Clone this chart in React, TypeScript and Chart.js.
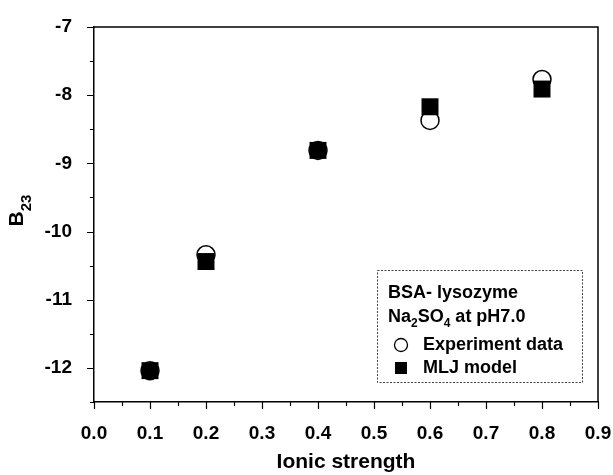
import React, { useEffect, useRef } from "react";
import { Chart, registerables } from "chart.js";

Chart.register(...registerables);

const ionicStrength = [0.1, 0.2, 0.4, 0.6, 0.8];
const experimentData = [-12.04, -10.34, -8.81, -8.37, -7.77];
const mljModel = [-12.04, -10.44, -8.81, -8.17, -7.91];
const xRange = [0, 0.9];
const yRange = [-12.5, -7];
const xMinorStep = 0.05;
const yMinorStep = 0.5;
const legendTitle1 = "BSA- lysozyme";
const legendTitle2 = [
  { t: "Na", sub: false },
  { t: "2", sub: true },
  { t: "SO", sub: false },
  { t: "4", sub: true },
  { t: " at pH7.0", sub: false },
];
const seriesNames = ["Experiment data", "MLJ model"];
const xTitle = "Ionic strength";

const FONT = '"Liberation Sans", Arial, Helvetica, sans-serif';

function isMultiple(v: number, step: number) {
  const r = v / step;
  return Math.abs(r - Math.round(r)) < 1e-6;
}

const decorPlugin = {
  id: "decor",
  afterDraw(chart: any) {
    const ctx = chart.ctx;
    const a = chart.chartArea;
    const xs = chart.scales.x;
    const ys = chart.scales.y;
    ctx.save();
    // top & right frame
    ctx.strokeStyle = "#000";
    ctx.lineWidth = 1.5;
    ctx.beginPath();
    ctx.moveTo(a.left, a.top);
    ctx.lineTo(a.right, a.top);
    ctx.lineTo(a.right, a.bottom);
    ctx.stroke();

    // ticks (outward, major & minor)
    ctx.lineWidth = 1.2;
    ctx.beginPath();
    const ny = Math.round((yRange[1] - yRange[0]) / yMinorStep);
    for (let i = 0; i <= ny; i++) {
      const v = yRange[0] + i * yMinorStep;
      const py = Math.round(ys.getPixelForValue(v)) + 0.5;
      const len = isMultiple(v, 1) ? 7 : 4;
      ctx.moveTo(a.left - len, py);
      ctx.lineTo(a.left, py);
    }
    const nx = Math.round((xRange[1] - xRange[0]) / xMinorStep);
    for (let i = 0; i <= nx; i++) {
      const v = xRange[0] + i * xMinorStep;
      const px = Math.round(xs.getPixelForValue(v)) + 0.5;
      const len = isMultiple(v, 0.1) ? 7 : 4;
      ctx.moveTo(px, a.bottom);
      ctx.lineTo(px, a.bottom + len);
    }
    ctx.stroke();

    // x title
    ctx.fillStyle = "#000";
    ctx.font = `bold 21px ${FONT}`;
    ctx.textAlign = "center";
    ctx.textBaseline = "middle";
    ctx.fillText(xTitle, (a.left + a.right) / 2, 462);

    // y title B23 rotated
    ctx.save();
    ctx.translate(23, (a.top + a.bottom) / 2 - 4);
    ctx.rotate(-Math.PI / 2);
    ctx.textBaseline = "alphabetic";
    ctx.textAlign = "left";
    ctx.font = `bold 21px ${FONT}`;
    const wB = ctx.measureText("B").width;
    ctx.font = `bold 15px ${FONT}`;
    const wS = ctx.measureText("23").width;
    const start = -(wB + wS) / 2;
    ctx.font = `bold 21px ${FONT}`;
    ctx.fillText("B", start, 0);
    ctx.font = `bold 15px ${FONT}`;
    ctx.fillText("23", start + wB, 8);
    ctx.restore();

    // legend box
    const bx = 377, by = 270, bw = 205, bh = 112;
    ctx.fillStyle = "#fff";
    ctx.fillRect(bx, by, bw, bh);
    ctx.setLineDash([2, 1.5]);
    ctx.strokeStyle = "#444";
    ctx.lineWidth = 1;
    ctx.strokeRect(bx + 0.5, by + 0.5, bw, bh);
    ctx.setLineDash([]);

    ctx.fillStyle = "#000";
    ctx.textAlign = "left";
    ctx.textBaseline = "middle";
    ctx.font = `bold 18px ${FONT}`;
    ctx.fillText(legendTitle1, 388, 293);
    let x = 388;
    for (const part of legendTitle2) {
      if (part.sub) {
        ctx.font = `bold 12px ${FONT}`;
        ctx.fillText(part.t, x, 324);
      } else {
        ctx.font = `bold 18px ${FONT}`;
        ctx.fillText(part.t, x, 317);
      }
      x += ctx.measureText(part.t).width;
    }
    // items
    ctx.font = `bold 18px ${FONT}`;
    ctx.fillText(seriesNames[0], 423, 345);
    ctx.fillText(seriesNames[1], 423, 368);
    ctx.beginPath();
    ctx.arc(401, 345, 6.5, 0, Math.PI * 2);
    ctx.fillStyle = "#fff";
    ctx.fill();
    ctx.strokeStyle = "#000";
    ctx.lineWidth = 1.3;
    ctx.stroke();
    ctx.fillStyle = "#000";
    ctx.fillRect(395, 362, 12, 12);
    ctx.restore();
  },
};

export default function App() {
  const ref = useRef<HTMLCanvasElement | null>(null);
  useEffect(() => {
    if (!ref.current) return;
    const chart = new Chart(ref.current, {
      type: "scatter",
      data: {
        datasets: [
          {
            label: seriesNames[1],
            data: ionicStrength.map((x, i) => ({ x, y: mljModel[i] })),
            pointStyle: "rect",
            pointRadius: 12,
            backgroundColor: "#000",
            borderColor: "#000",
            borderWidth: 0,
            order: 0,
          },
          {
            label: seriesNames[0],
            data: ionicStrength.map((x, i) => ({ x, y: experimentData[i] })),
            pointStyle: "circle",
            pointRadius: 9,
            backgroundColor: "#fff",
            borderColor: "#000",
            borderWidth: 1.5,
            order: 1,
          },
        ],
      },
      options: {
        animation: false,
        responsive: false,
        events: [],
        layout: { padding: { top: 27, right: 15, left: 0, bottom: 0 } },
        plugins: { legend: { display: false }, tooltip: { enabled: false } },
        scales: {
          x: {
            type: "linear",
            min: xRange[0],
            max: xRange[1],
            afterFit: (s: any) => {
              s.height = 73;
              s.paddingLeft = 0;
              s.paddingRight = 0;
            },
            ticks: {
              stepSize: 0.1,
              autoSkip: false,
              maxRotation: 0,
              padding: 12,
              color: "#000",
              font: { family: FONT, size: 19, weight: "bold" },
              callback: (v: any) => Number(v).toFixed(1),
            },
            grid: { display: false },
            border: { display: true, color: "#000", width: 1.5 },
          },
          y: {
            type: "linear",
            min: yRange[0],
            max: yRange[1],
            afterFit: (s: any) => {
              s.width = 94;
              s.paddingTop = 0;
              s.paddingBottom = 0;
            },
            ticks: {
              stepSize: 1,
              autoSkip: false,
              padding: 14,
              color: "#000",
              font: { family: FONT, size: 19, weight: "bold" },
              callback: (v: any) => (isMultiple(Number(v), 1) ? String(Math.round(Number(v))) : ""),
            },
            grid: { display: false },
            border: { display: true, color: "#000", width: 1.5 },
          },
        },
      },
      plugins: [decorPlugin],
    });
    return () => chart.destroy();
  }, []);
  return (
    <div style={{ position: "fixed", left: 0, top: 0, width: 613, height: 475, background: "#fff" }}>
      <canvas ref={ref} width={613} height={475} style={{ display: "block", width: 613, height: 475 }} />
    </div>
  );
}
